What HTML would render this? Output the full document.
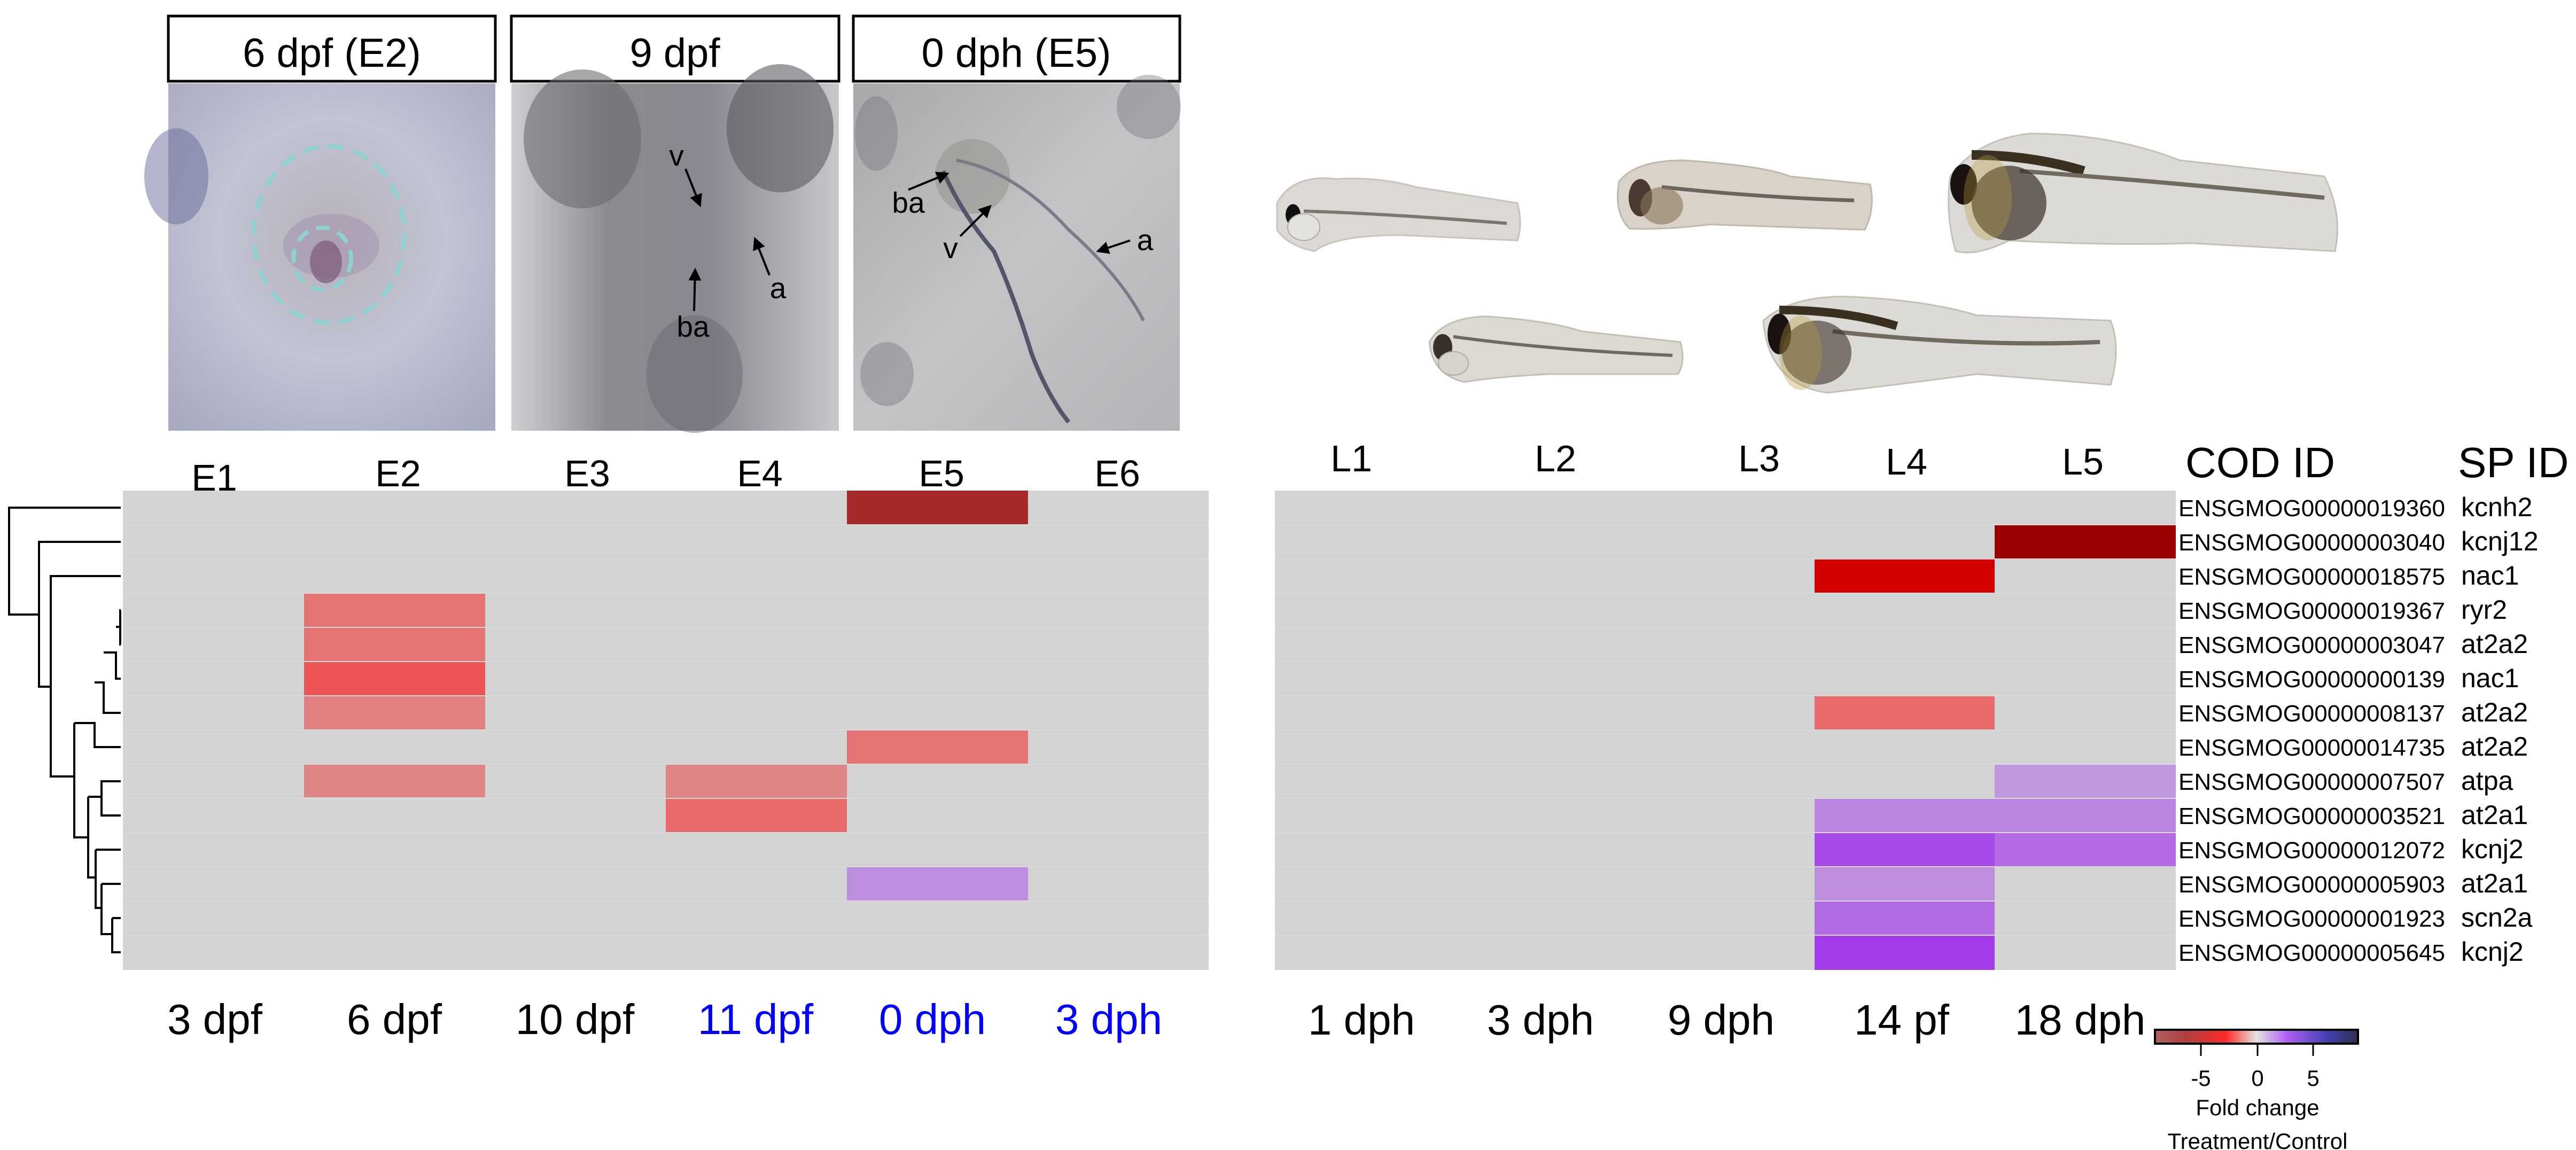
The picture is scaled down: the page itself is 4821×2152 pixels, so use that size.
<!DOCTYPE html>
<html><head><meta charset="utf-8"><style>
html,body{margin:0;padding:0;background:#fff;}
svg{display:block;}
text{font-family:"Liberation Sans",Arial,sans-serif;}
</style></head><body>
<svg width="4821" height="2152" viewBox="0 0 4821 2152" xmlns="http://www.w3.org/2000/svg">
<defs>
<marker id="ah" markerWidth="6" markerHeight="6" refX="5" refY="3" orient="auto" markerUnits="strokeWidth"><path d="M0,0 L6,3 L0,6 z" fill="#000"/></marker>
<linearGradient id="cb" x1="0" x2="1" y1="0" y2="0">
<stop offset="0" stop-color="#b06060"/><stop offset="0.15" stop-color="#b04040"/><stop offset="0.35" stop-color="#ff2a2a"/><stop offset="0.5" stop-color="#e4e4e4"/><stop offset="0.65" stop-color="#b060f0"/><stop offset="0.85" stop-color="#4040b0"/><stop offset="1" stop-color="#303050"/>
</linearGradient>
<radialGradient id="p1" cx="0.5" cy="0.45" r="0.7"><stop offset="0" stop-color="#b8b0b8"/><stop offset="0.5" stop-color="#c0c4d4"/><stop offset="1" stop-color="#a8aac0"/></radialGradient>
<linearGradient id="p2" x1="0" x2="1" y1="0" y2="0"><stop offset="0" stop-color="#cfcfd2"/><stop offset="0.3" stop-color="#8c8a90"/><stop offset="0.6" stop-color="#8a8890"/><stop offset="1" stop-color="#c8c8cc"/></linearGradient>
<linearGradient id="p3" x1="0" x2="1" y1="0" y2="1"><stop offset="0" stop-color="#a8a8aa"/><stop offset="0.5" stop-color="#c4c4c6"/><stop offset="1" stop-color="#b4b4b8"/></linearGradient>
</defs>

<!-- Top photo panels -->
<rect x="315" y="30" width="612" height="122" fill="#fff" stroke="#000" stroke-width="5"/>
<text x="621" y="125" font-size="76" text-anchor="middle">6 dpf (E2)</text>
<rect x="315" y="156" width="612" height="650" fill="url(#p1)"/>
<ellipse cx="330" cy="330" rx="60" ry="90" fill="#6a6a9a" opacity="0.5"/>
<ellipse cx="620" cy="460" rx="90" ry="60" fill="#9a88a8" opacity="0.4"/>
<ellipse cx="616" cy="439" rx="141" ry="165" fill="none" stroke="#8fd0d0" stroke-width="8" stroke-dasharray="30,18"/>
<ellipse cx="603" cy="484" rx="54" ry="58" fill="none" stroke="#8fd0d0" stroke-width="8" stroke-dasharray="26,16"/>
<ellipse cx="610" cy="490" rx="30" ry="40" fill="#7a5878" opacity="0.7"/>

<rect x="957" y="30" width="613" height="122" fill="#fff" stroke="#000" stroke-width="5"/>
<text x="1263" y="125" font-size="76" text-anchor="middle">9 dpf</text>
<rect x="957" y="156" width="613" height="650" fill="url(#p2)"/>
<ellipse cx="1090" cy="260" rx="110" ry="130" fill="#6c6a70" opacity="0.6"/>
<ellipse cx="1460" cy="240" rx="100" ry="120" fill="#5e5c62" opacity="0.6"/>
<ellipse cx="1300" cy="700" rx="90" ry="110" fill="#6a6870" opacity="0.5"/>
<text x="1266" y="310" font-size="55" text-anchor="middle">v</text>
<line x1="1283" y1="316" x2="1310" y2="384" stroke="#000" stroke-width="4" marker-end="url(#ah)"/>
<text x="1456" y="558" font-size="55" text-anchor="middle">a</text>
<line x1="1440" y1="515" x2="1413" y2="447" stroke="#000" stroke-width="4" marker-end="url(#ah)"/>
<text x="1297" y="630" font-size="55" text-anchor="middle">ba</text>
<line x1="1299" y1="582" x2="1301" y2="505" stroke="#000" stroke-width="4" marker-end="url(#ah)"/>

<rect x="1597" y="30" width="611" height="122" fill="#fff" stroke="#000" stroke-width="5"/>
<text x="1902" y="125" font-size="76" text-anchor="middle">0 dph (E5)</text>
<rect x="1597" y="156" width="611" height="650" fill="url(#p3)"/>
<ellipse cx="1640" cy="250" rx="40" ry="70" fill="#70707a" opacity="0.4"/>
<ellipse cx="2150" cy="200" rx="60" ry="60" fill="#70707a" opacity="0.4"/>
<ellipse cx="1660" cy="700" rx="50" ry="60" fill="#70707a" opacity="0.4"/>
<ellipse cx="1820" cy="330" rx="70" ry="70" fill="#8a8a80" opacity="0.45"/>
<path d="M1765 320 Q1800 400 1860 470 Q1900 560 1930 660 Q1960 740 2000 790" fill="none" stroke="#55556a" stroke-width="8"/>
<path d="M1790 300 Q1900 320 2000 430 Q2100 520 2140 600" fill="none" stroke="#7a7a88" stroke-width="6"/>
<text x="1700" y="398" font-size="55" text-anchor="middle">ba</text>
<line x1="1700" y1="355" x2="1773" y2="325" stroke="#000" stroke-width="4" marker-end="url(#ah)"/>
<text x="1779" y="483" font-size="55" text-anchor="middle">v</text>
<line x1="1797" y1="442" x2="1853" y2="386" stroke="#000" stroke-width="4" marker-end="url(#ah)"/>
<text x="2143" y="468" font-size="55" text-anchor="middle">a</text>
<line x1="2115" y1="450" x2="2055" y2="470" stroke="#000" stroke-width="4" marker-end="url(#ah)"/>

<!-- Fish -->
<g>
<path d="M2390 380 Q2420 325 2500 335 Q2580 330 2650 350 L2840 380 Q2850 420 2840 450 L2620 440 Q2500 440 2460 470 Q2410 460 2390 430 Z" fill="#dcd9d4" stroke="#c8c4bc" stroke-width="3"/>
<ellipse cx="2420" cy="402" rx="14" ry="20" fill="#111"/>
<path d="M2440 395 Q2600 400 2820 418" fill="none" stroke="#7a7670" stroke-width="6"/>
<ellipse cx="2440" cy="425" rx="30" ry="25" fill="#e4e2dc" stroke="#aaa" stroke-width="2"/>

<path d="M3030 340 Q3060 300 3150 300 Q3300 310 3350 330 L3500 345 Q3510 390 3490 430 L3200 420 Q3120 430 3050 428 Q3020 400 3030 340 Z" fill="#d8d2c8" stroke="#c0b8aa" stroke-width="3"/>
<ellipse cx="3070" cy="370" rx="22" ry="35" fill="#4a3a32"/>
<path d="M3110 350 Q3300 370 3470 375" fill="none" stroke="#6a645e" stroke-width="7"/>
<ellipse cx="3110" cy="385" rx="40" ry="35" fill="#8a7458" opacity="0.6"/>

<path d="M3650 330 Q3700 260 3800 250 Q3950 250 4080 300 L4350 330 Q4385 400 4370 470 L4100 455 Q3950 460 3760 450 Q3700 480 3660 470 Q3640 400 3650 330 Z" fill="#dcdad6" stroke="#c4c0b8" stroke-width="3"/>
<ellipse cx="3675" cy="345" rx="25" ry="38" fill="#1a1210"/>
<path d="M3690 290 Q3800 290 3900 320" fill="none" stroke="#3a3020" stroke-width="18"/>
<path d="M3780 320 Q4050 340 4350 370" fill="none" stroke="#706a60" stroke-width="8"/>
<ellipse cx="3760" cy="380" rx="70" ry="70" fill="#3a3228" opacity="0.7"/>
<ellipse cx="3720" cy="370" rx="45" ry="80" fill="#b89a40" opacity="0.35"/>

<path d="M2675 640 Q2700 595 2780 592 Q2900 600 2960 620 L3145 640 Q3155 680 3140 700 L2900 700 Q2800 705 2740 715 Q2680 700 2675 640 Z" fill="#dcd8d2" stroke="#c4beb4" stroke-width="3"/>
<ellipse cx="2700" cy="650" rx="18" ry="25" fill="#3a302a"/>
<path d="M2720 630 Q2900 655 3130 665" fill="none" stroke="#6e6860" stroke-width="6"/>
<ellipse cx="2720" cy="680" rx="28" ry="22" fill="#d8d4cc" stroke="#aaa" stroke-width="2"/>

<path d="M3300 600 Q3350 555 3450 555 Q3600 560 3700 590 L3950 600 Q3970 650 3950 720 L3700 700 Q3550 720 3420 735 Q3310 720 3300 600 Z" fill="#dcdad6" stroke="#c4c0b8" stroke-width="3"/>
<ellipse cx="3330" cy="625" rx="22" ry="38" fill="#1a1210"/>
<path d="M3330 580 Q3450 580 3550 610" fill="none" stroke="#3a3020" stroke-width="16"/>
<path d="M3430 620 Q3700 650 3930 640" fill="none" stroke="#706a60" stroke-width="8"/>
<ellipse cx="3400" cy="660" rx="65" ry="60" fill="#3a3228" opacity="0.6"/>
<ellipse cx="3370" cy="660" rx="40" ry="70" fill="#b89a40" opacity="0.35"/>
</g>

<!-- Left heatmap labels -->
<g font-size="70" text-anchor="middle">
<text x="401" y="918">E1</text><text x="745" y="910">E2</text><text x="1099" y="910">E3</text>
<text x="1422" y="910">E4</text><text x="1762" y="910">E5</text><text x="2091" y="910">E6</text>
</g>
<!-- Left heatmap -->
<rect x="230" y="918" width="2032" height="897" fill="#d3d3d3"/>
<g>
<rect x="1585" y="918" width="339" height="64" fill="#a52a2a"/>
<rect x="569" y="1110" width="339" height="128" fill="#e57373"/>
<rect x="569" y="1238" width="339" height="64" fill="#ec5353"/>
<rect x="569" y="1302" width="339" height="64" fill="#e08080"/>
<rect x="1585" y="1366" width="339" height="64" fill="#e57373"/>
<rect x="569" y="1430" width="339" height="62" fill="#e08585"/>
<rect x="1246" y="1430" width="339" height="64" fill="#e08585"/>
<rect x="1246" y="1494" width="339" height="64" fill="#e86a6a"/>
<rect x="1585" y="1622" width="339" height="64" fill="#bd8ddf"/>
</g>
<g stroke="#dadada" stroke-width="2">
<line x1="230" x2="2262" y1="982" y2="982"/><line x1="230" x2="2262" y1="1046" y2="1046"/><line x1="230" x2="2262" y1="1110" y2="1110"/><line x1="230" x2="2262" y1="1174" y2="1174"/><line x1="230" x2="2262" y1="1238" y2="1238"/><line x1="230" x2="2262" y1="1302" y2="1302"/><line x1="230" x2="2262" y1="1366" y2="1366"/><line x1="230" x2="2262" y1="1430" y2="1430"/><line x1="230" x2="2262" y1="1494" y2="1494"/><line x1="230" x2="2262" y1="1558" y2="1558"/><line x1="230" x2="2262" y1="1622" y2="1622"/><line x1="230" x2="2262" y1="1686" y2="1686"/><line x1="230" x2="2262" y1="1750" y2="1750"/>
</g>
<!-- Dendrogram -->
<g stroke="#000" stroke-width="4" fill="none">
<path d="M226 950 H17 V1150 H73"/>
<path d="M226 1014 H73 V1285 H95"/>
<path d="M226 1078 H95 V1453 H139"/>
<path d="M139 1353 V1567 H165"/>
<path d="M139 1353 H177 V1398 H226"/>
<path d="M177 1277 H194 V1334 H226"/>
<path d="M194 1221 H217 V1270 H226"/>
<path d="M217 1173 H225 V1142 H226 M225 1173 V1206 H226"/>
<path d="M165 1491 V1642 H179"/>
<path d="M165 1491 H190 V1462 H226 M190 1491 V1526 H226"/>
<path d="M179 1590 H226 M179 1590 V1699 H190"/>
<path d="M190 1654 H226 M190 1654 V1748 H210"/>
<path d="M210 1718 H226 M210 1718 V1782 H226"/>
</g>
<g font-size="80" text-anchor="middle">
<text x="402" y="1935">3 dpf</text><text x="738" y="1935">6 dpf</text><text x="1076" y="1935">10 dpf</text>
<text x="1414" y="1935" fill="#0000ff">11 dpf</text><text x="1745" y="1935" fill="#0000ff">0 dph</text><text x="2075" y="1935" fill="#0000ff">3 dph</text>
</g>

<!-- Right heatmap -->
<g font-size="70" text-anchor="middle">
<text x="2529" y="882">L1</text><text x="2911" y="882">L2</text><text x="3292" y="882">L3</text>
<text x="3568" y="888">L4</text><text x="3898" y="888">L5</text>
</g>
<text x="4090" y="893" font-size="80">COD ID</text>
<text x="4600" y="893" font-size="80">SP ID</text>
<rect x="2386" y="918" width="1686" height="897" fill="#d3d3d3"/>
<g>
<rect x="3733" y="982" width="339" height="64" fill="#990000"/>
<rect x="3396" y="1046" width="337" height="64" fill="#d40000"/>
<rect x="3396" y="1302" width="337" height="64" fill="#e86a6a"/>
<rect x="3733" y="1430" width="339" height="64" fill="#c096dc"/>
<rect x="3396" y="1494" width="676" height="64" fill="#b985e0"/>
<rect x="3396" y="1558" width="337" height="64" fill="#a64be9"/>
<rect x="3733" y="1558" width="339" height="64" fill="#b36ae3"/>
<rect x="3396" y="1622" width="337" height="64" fill="#be8edd"/>
<rect x="3396" y="1686" width="337" height="64" fill="#b06ae3"/>
<rect x="3396" y="1750" width="337" height="65" fill="#a43ceb"/>
</g>
<g stroke="#dadada" stroke-width="2">
<line x1="2386" x2="4072" y1="982" y2="982"/><line x1="2386" x2="4072" y1="1046" y2="1046"/><line x1="2386" x2="4072" y1="1110" y2="1110"/><line x1="2386" x2="4072" y1="1174" y2="1174"/><line x1="2386" x2="4072" y1="1238" y2="1238"/><line x1="2386" x2="4072" y1="1302" y2="1302"/><line x1="2386" x2="4072" y1="1366" y2="1366"/><line x1="2386" x2="4072" y1="1430" y2="1430"/><line x1="2386" x2="4072" y1="1494" y2="1494"/><line x1="2386" x2="4072" y1="1558" y2="1558"/><line x1="2386" x2="4072" y1="1622" y2="1622"/><line x1="2386" x2="4072" y1="1686" y2="1686"/><line x1="2386" x2="4072" y1="1750" y2="1750"/>
</g>
<g font-size="44">
<text x="4077" y="966">ENSGMOG00000019360</text>
<text x="4077" y="1030">ENSGMOG00000003040</text>
<text x="4077" y="1094">ENSGMOG00000018575</text>
<text x="4077" y="1158">ENSGMOG00000019367</text>
<text x="4077" y="1222">ENSGMOG00000003047</text>
<text x="4077" y="1286">ENSGMOG00000000139</text>
<text x="4077" y="1350">ENSGMOG00000008137</text>
<text x="4077" y="1414">ENSGMOG00000014735</text>
<text x="4077" y="1478">ENSGMOG00000007507</text>
<text x="4077" y="1542">ENSGMOG00000003521</text>
<text x="4077" y="1606">ENSGMOG00000012072</text>
<text x="4077" y="1670">ENSGMOG00000005903</text>
<text x="4077" y="1734">ENSGMOG00000001923</text>
<text x="4077" y="1798">ENSGMOG00000005645</text>
</g>
<g font-size="50">
<text x="4606" y="966">kcnh2</text><text x="4606" y="1030">kcnj12</text><text x="4606" y="1094">nac1</text>
<text x="4606" y="1158">ryr2</text><text x="4606" y="1222">at2a2</text><text x="4606" y="1286">nac1</text>
<text x="4606" y="1350">at2a2</text><text x="4606" y="1414">at2a2</text><text x="4606" y="1478">atpa</text>
<text x="4606" y="1542">at2a1</text><text x="4606" y="1606">kcnj2</text><text x="4606" y="1670">at2a1</text>
<text x="4606" y="1734">scn2a</text><text x="4606" y="1798">kcnj2</text>
</g>
<g font-size="80" text-anchor="middle">
<text x="2548" y="1936">1 dph</text><text x="2883" y="1936">3 dph</text><text x="3221" y="1936">9 dph</text>
<text x="3559" y="1936">14 pf</text><text x="3893" y="1936">18 dph</text>
</g>

<!-- Colorbar -->
<rect x="4033" y="1927" width="380" height="26" fill="url(#cb)" stroke="#000" stroke-width="4"/>
<g stroke="#000" stroke-width="3">
<line x1="4119" y1="1953" x2="4119" y2="1976"/><line x1="4225" y1="1953" x2="4225" y2="1976"/><line x1="4329" y1="1953" x2="4329" y2="1976"/>
</g>
<g font-size="42" text-anchor="middle">
<text x="4119" y="2032">-5</text><text x="4225" y="2032">0</text><text x="4329" y="2032">5</text>
<text x="4225" y="2087">Fold change</text>
<text x="4225" y="2150">Treatment/Control</text>
</g>
</svg>
</body></html>
